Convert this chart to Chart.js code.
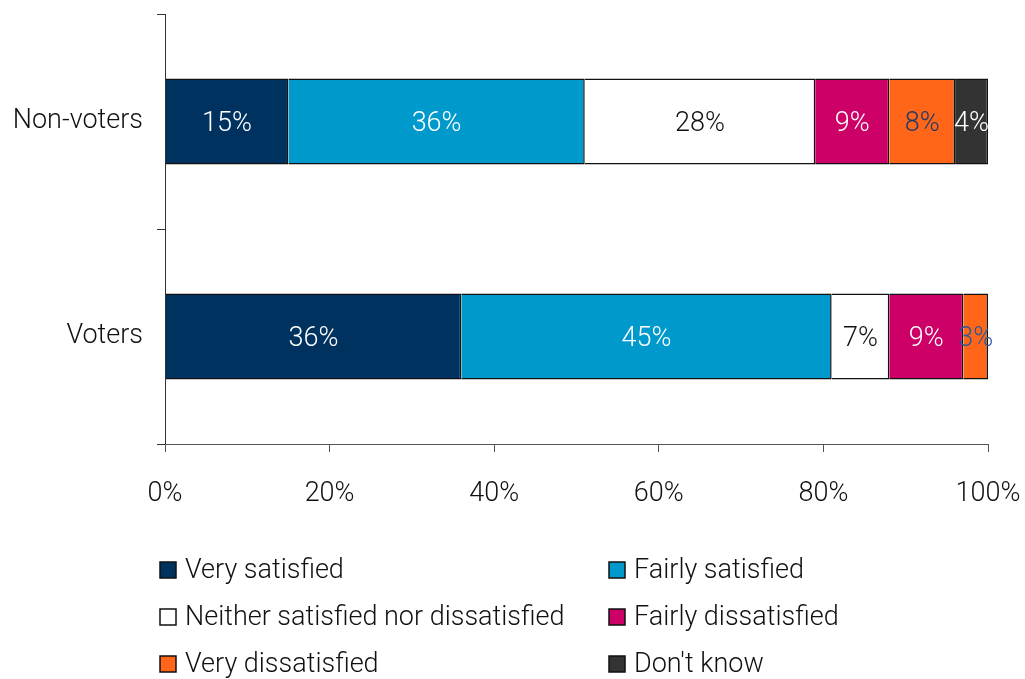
<!DOCTYPE html>
<html><head><meta charset="utf-8">
<script src="https://cdn.jsdelivr.net/npm/chart.js@4/dist/chart.umd.min.js"></script>
<style>html,body{margin:0;padding:0;background:#fff}#wrap{width:1025px;height:679px}</style>
</head><body><div id="wrap"><canvas id="c" width="1025" height="679"></canvas></div>
<script>
const categories = ["Non-voters", "Voters"];
const seriesNames = ["Very satisfied","Fairly satisfied","Neither satisfied nor dissatisfied","Fairly dissatisfied","Very dissatisfied","Don't know"];
const verySatisfied = [15, 36];
const fairlySatisfied = [36, 45];
const neither = [28, 7];
const fairlyDissatisfied = [9, 9];
const veryDissatisfied = [8, 3];
const dontKnow = [4, 0];
const xTicks = [0, 20, 40, 60, 80, 100];

const colors = ["#00325f","#0099cc","#ffffff","#cc0066","#ff6619","#333333"];
const labelColors = [["#fff","#fff"],["#fff","#fff"],["#111","#111"],["#fff","#fff"],["#1f3a66","#2a5a98"],["#fff","#fff"]];
const values = [verySatisfied, fairlySatisfied, neither, fairlyDissatisfied, veryDissatisfied, dontKnow];
const FONT = "'Roboto', 'Liberation Sans', sans-serif";
const FS = 27;

const datasets = seriesNames.map((n,i)=>({
  label:n, data:values[i], backgroundColor:colors[i], borderColor:"#111", borderWidth:1.5,
  barPercentage:0.4, categoryPercentage:1, labelColors:labelColors[i]
}));

const labelPlugin = {
  id:'barLabels',
  afterDatasetsDraw(chart){
    const ctx = chart.ctx;
    ctx.save();
    ctx.font = "300 " + FS + "px " + FONT;
    ctx.textAlign = "center"; ctx.textBaseline = "middle";
    chart.data.datasets.forEach((ds, di)=>{
      const meta = chart.getDatasetMeta(di);
      meta.data.forEach((bar, j)=>{
        const v = ds.data[j];
        if (!v) return;
        const x = (bar.x + bar.base)/2;
        ctx.fillStyle = ds.labelColors[j];
        ctx.fillText(v + "%", x, bar.y + 3);
      });
    });
    ctx.restore();
  }
};

const legendPlugin = {
  id:'gridLegend',
  afterDraw(chart){
    const ctx = chart.ctx;
    const ca = chart.chartArea;
    const cols = [ca.left - 5, ca.left + 444];
    const rowY = [570, 617, 664];
    ctx.save();
    ctx.font = "300 " + FS + "px " + FONT;
    ctx.textBaseline = "middle"; ctx.textAlign = "left";
    chart.data.datasets.forEach((ds, i)=>{
      const x = cols[i % 2], y = rowY[Math.floor(i/2)];
      ctx.fillStyle = ds.backgroundColor;
      ctx.fillRect(x, y - 8, 16, 16);
      ctx.strokeStyle = "#111"; ctx.lineWidth = 1.5;
      ctx.strokeRect(x, y - 8, 16, 16);
      ctx.fillStyle = "#111";
      ctx.fillText(ds.label, x + 25, y + 1);
    });
    ctx.restore();
  }
};

function zeroPad(s){ s.paddingTop = 0; s.paddingBottom = 0; s.paddingLeft = 0; s.paddingRight = 0; }

new Chart(document.getElementById('c'), {
  type:'bar',
  data:{labels:categories, datasets},
  options:{
    indexAxis:'y', responsive:false, animation:false,
    layout:{padding:{top:14, right:37, left:0, bottom:0}},
    plugins:{legend:{display:false}, tooltip:{enabled:false}},
    scales:{
      y:{stacked:true,
        grid:{drawOnChartArea:false, offset:true, tickLength:8, color:"#333"},
        border:{color:"#333", width:1},
        ticks:{color:"#111", font:{family:FONT, size:FS, weight:300}, padding:14},
        afterFit(s){ s.width = 165; zeroPad(s); }
      },
      x:{stacked:true, min:0, max:100,
        afterBuildTicks(s){ s.ticks = xTicks.map(v=>({value:v})); },
        grid:{drawOnChartArea:false, tickLength:8, color:"#555"},
        border:{color:"#555", width:1},
        ticks:{color:"#111", font:{family:FONT, size:FS, weight:300}, padding:26, callback:v=>v+"%"},
        afterFit(s){ s.height = 235; zeroPad(s); }
      }
    }
  },
  plugins:[labelPlugin, legendPlugin]
});
</script></body></html>
